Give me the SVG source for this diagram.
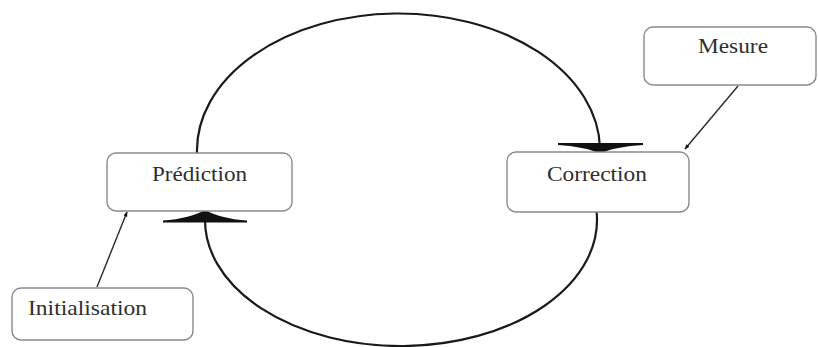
<svg xmlns="http://www.w3.org/2000/svg" width="818" height="347" viewBox="0 0 818 347">
  <style>
    .box { fill: #ffffff; stroke: #8a8a8a; stroke-width: 1.4; }
    .label { font-family: "Liberation Serif", "Times New Roman", serif; font-size: 22px; fill: #2e2e2e; }
    .loop { fill: none; stroke: #1a1a1a; stroke-width: 2.2; }
    .feed { fill: none; stroke: #2a2a2a; stroke-width: 1.4; }
    .head { fill: #111111; stroke: none; }
  </style>
  <defs>
    <marker id="tip" viewBox="0 0 10 10" refX="9" refY="5" markerWidth="5" markerHeight="5" orient="auto" markerUnits="userSpaceOnUse">
      <path d="M0,1 L10,5 L0,9 Z" fill="#111111"/>
    </marker>
  </defs>
  <rect width="818" height="347" fill="#ffffff"/>

  <g id="connectors">
    <!-- upper arc: Prédiction to Correction -->
    <path class="loop" d="M197,153 A201.5,137 0 0 1 600,148"/>
    <!-- lower arc: Correction back to Prédiction -->
    <path class="loop" d="M596.6,212 A196,126 0 1 1 205.1,216"/>
    <!-- wide arrowheads on the loop -->
    <path class="head" d="M558,143 L643,143 L643,145 C626,146 609,149 600,153.5 C591,149 574,146 558,145 Z"/>
    <path class="head" d="M163,220.5 C180,219.5 197,215 205,210 C213,215 230,219.5 247,220.5 L247,222.5 L163,222.5 Z"/>
    <!-- feed lines -->
    <path class="feed" d="M738,86 L685,149" marker-end="url(#tip)"/>
    <path class="feed" d="M97,287 L127,212" marker-end="url(#tip)"/>
  </g>

  <g id="prediction">
    <rect class="box" x="107" y="153" width="185" height="58" rx="9"/>
    <text class="label" x="152" y="181" textLength="95" lengthAdjust="spacingAndGlyphs">Prédiction</text>
  </g>
  <g id="correction">
    <rect class="box" x="507" y="152" width="182" height="60" rx="9"/>
    <text class="label" x="547" y="181" textLength="100" lengthAdjust="spacingAndGlyphs">Correction</text>
  </g>
  <g id="initialisation">
    <rect class="box" x="12" y="288" width="181" height="52" rx="9"/>
    <text class="label" x="28" y="315" textLength="119" lengthAdjust="spacingAndGlyphs">Initialisation</text>
  </g>
  <g id="mesure">
    <rect class="box" x="644" y="27" width="172" height="58" rx="9"/>
    <text class="label" x="698" y="53" textLength="70" lengthAdjust="spacingAndGlyphs">Mesure</text>
  </g>
</svg>
